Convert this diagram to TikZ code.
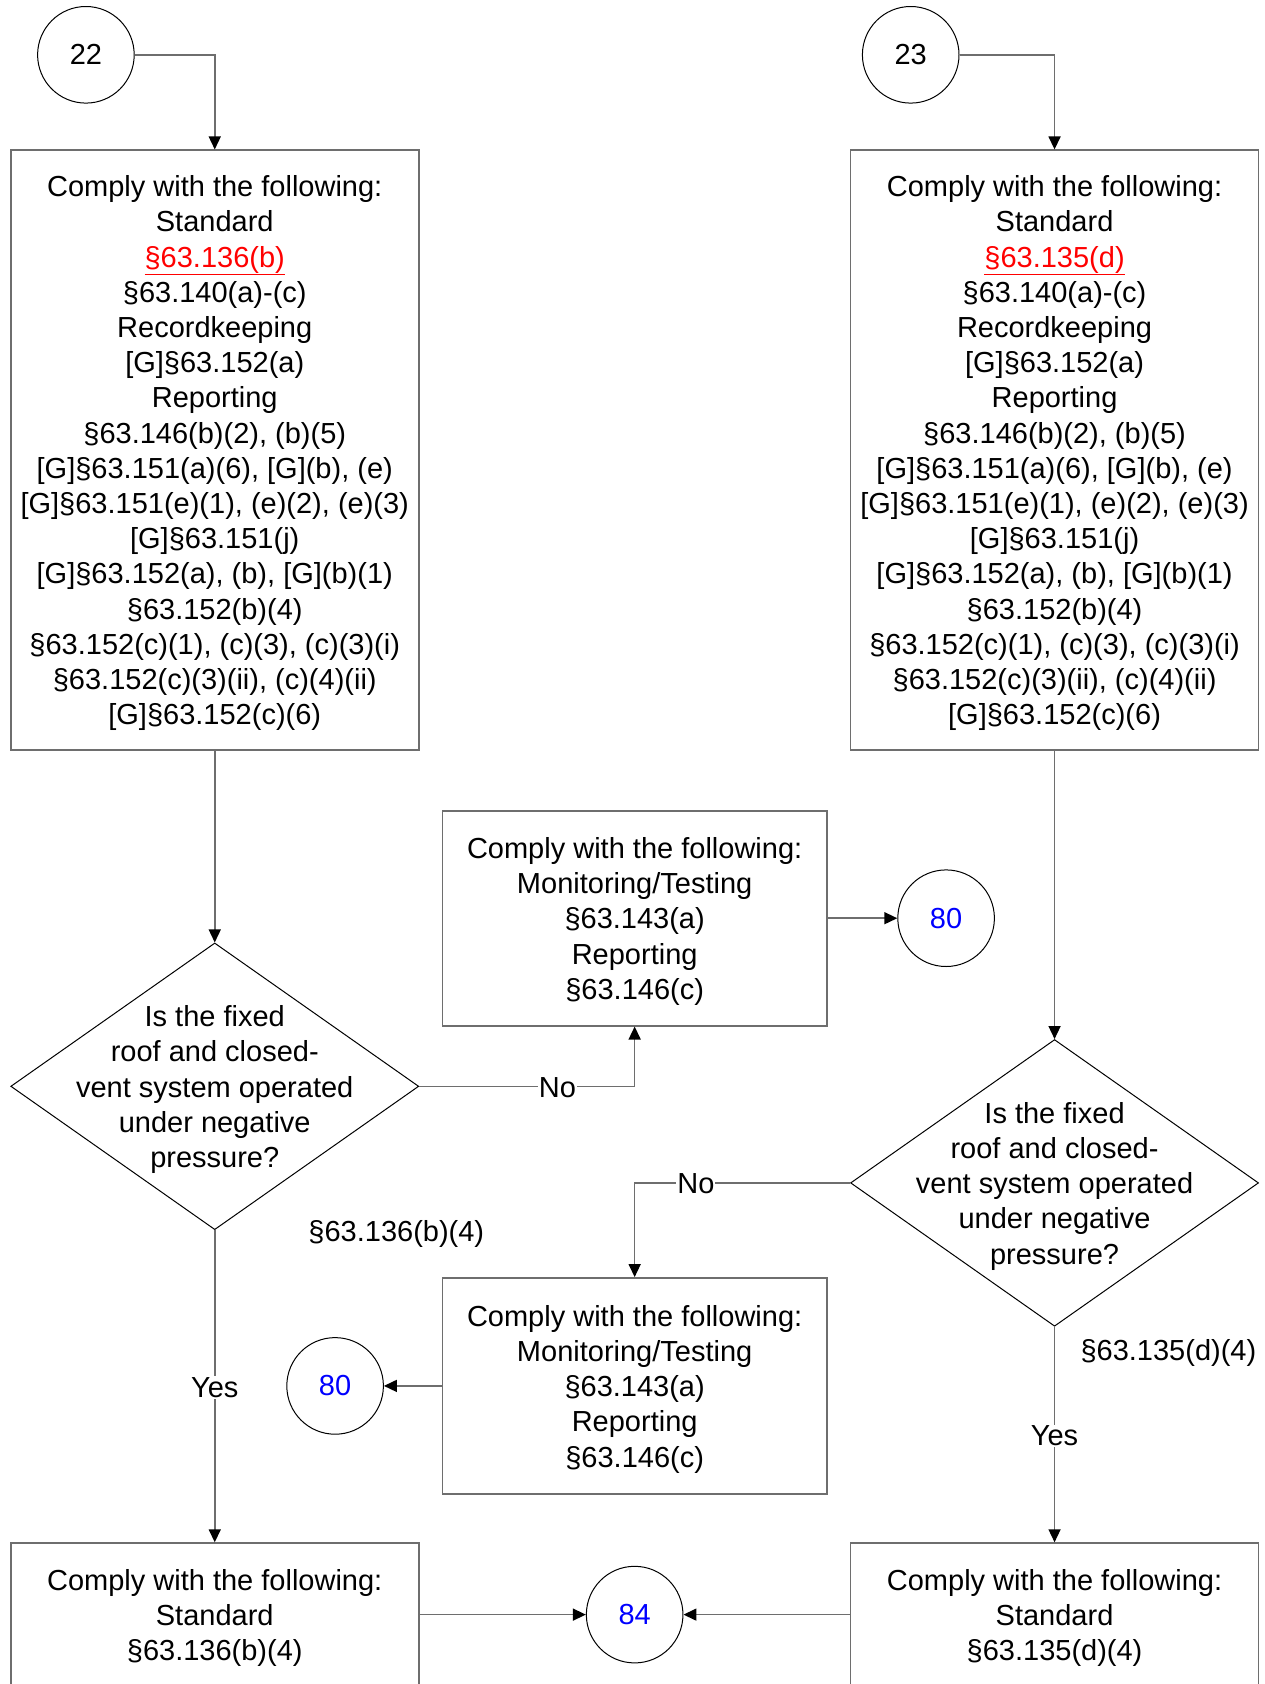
\documentclass[tikz,border=0pt]{standalone}
\usepackage{fontspec}
\setmainfont{Liberation Sans}
\usetikzlibrary{shapes.geometric,arrows.meta}
\definecolor{boxgray}{HTML}{6E6E6E}
\definecolor{refred}{HTML}{FF0000}
\definecolor{refblue}{HTML}{0000FF}
\begin{document}
\begin{tikzpicture}[x=1pt,y=-1pt,
  every node/.style={font=\fontsize{29}{35.2}\selectfont, text=black},
  box/.style={draw=boxgray, line width=1.8pt, rectangle, inner sep=0pt},
  dia/.style={draw=black, line width=1pt, diamond, inner sep=0pt, minimum width=408pt, minimum height=286.7pt},
  conn/.style={draw=boxgray, line width=1.5pt, -{Triangle[length=13pt,width=12pt,color=black]}},
  circ/.style={draw=black, line width=1pt, circle, inner sep=0pt, minimum size=96.6pt},
  lbl/.style={fill=white, inner sep=1pt, yshift=-1pt},
  txt/.style={align=center, inner sep=0pt, yshift=-3.2pt},
  num/.style={inner sep=0pt}
]
\useasboundingbox (0,0) rectangle (1264,1684);
\fill[white] (0,0) rectangle (1264,1684);
\clip (0,0) rectangle (1264,1684);

% entry circles
\node[circ] (c22) at (85.9,54.8) {};
\node[num] (c22t) at (c22.center) {22};
\node[circ] (c23) at (910.7,54.8) {};
\node[num] (c23t) at (c23.center) {23};

% top boxes
\node[box, minimum width=408pt, minimum height=599.3pt] (b1) at (214.75,450) {};
\node[txt] (b1t) at (b1.center) {Comply with the following:\\Standard\\{\color{refred}\underline{§63.136(b)}}\\§63.140(a)-(c)\\Recordkeeping\\{[G]}§63.152(a)\\Reporting\\§63.146(b)(2), (b)(5)\\{[G]}§63.151(a)(6), [G](b), (e)\\{[G]}§63.151(e)(1), (e)(2), (e)(3)\\{[G]}§63.151(j)\\{[G]}§63.152(a), (b), [G](b)(1)\\§63.152(b)(4)\\§63.152(c)(1), (c)(3), (c)(3)(i)\\§63.152(c)(3)(ii), (c)(4)(ii)\\{[G]}§63.152(c)(6)};
\node[box, minimum width=408pt, minimum height=599.3pt] (b2) at (1054.55,450) {};
\node[txt] (b2t) at (b2.center) {Comply with the following:\\Standard\\{\color{refred}\underline{§63.135(d)}}\\§63.140(a)-(c)\\Recordkeeping\\{[G]}§63.152(a)\\Reporting\\§63.146(b)(2), (b)(5)\\{[G]}§63.151(a)(6), [G](b), (e)\\{[G]}§63.151(e)(1), (e)(2), (e)(3)\\{[G]}§63.151(j)\\{[G]}§63.152(a), (b), [G](b)(1)\\§63.152(b)(4)\\§63.152(c)(1), (c)(3), (c)(3)(i)\\§63.152(c)(3)(ii), (c)(4)(ii)\\{[G]}§63.152(c)(6)};

% middle boxes
\node[box, minimum width=384.5pt, minimum height=214.8pt] (m1) at (634.65,918.2) {};
\node[txt] (m1t) at (m1.center) {Comply with the following:\\Monitoring/Testing\\§63.143(a)\\Reporting\\§63.146(c)};
\node[box, minimum width=384.5pt, minimum height=215.8pt] (m2) at (634.65,1385.9) {};
\node[txt] (m2t) at (m2.center) {Comply with the following:\\Monitoring/Testing\\§63.143(a)\\Reporting\\§63.146(c)};

\node[circ] (c80a) at (946.1,918.2) {};
\node[num, text=refblue] (c80at) at (c80a.center) {80};
\node[circ] (c80b) at (335.1,1385.9) {};
\node[num, text=refblue] (c80bt) at (c80b.center) {80};

% diamonds
\node[dia] (d1) at (214.75,1086.3) {};
\node[txt] (d1t) at (d1.center) {Is the fixed\\roof and closed-\\vent system operated\\under negative\\pressure?};
\node[dia] (d2) at (1054.55,1182.9) {};
\node[txt] (d2t) at (d2.center) {Is the fixed\\roof and closed-\\vent system operated\\under negative\\pressure?};

% bottom boxes
\node[box, minimum width=408pt, minimum height=142.8pt] (b3) at (214.75,1614.6) {};
\node[txt] (b3t) at (b3.center) {Comply with the following:\\Standard\\§63.136(b)(4)};
\node[box, minimum width=408pt, minimum height=142.8pt] (b4) at (1054.55,1614.6) {};
\node[txt] (b4t) at (b4.center) {Comply with the following:\\Standard\\§63.135(d)(4)};
\node[circ] (c84) at (634.65,1614.6) {};
\node[num, text=refblue] (c84t) at (c84.center) {84};

% edges
\draw[conn] (c22.east) -| (b1.north);
\draw[conn] (c23.east) -| (b2.north);
\draw[conn] (b1.south) -- (d1.north);
\draw[conn] (d1.east) -| (m1.south);
\draw[conn] (m1.east) -- (c80a.west);
\draw[conn] (b2.south) -- (d2.north);
\draw[conn] (d2.west) -| (m2.north);
\draw[conn] (m2.west) -- (c80b.east);
\draw[conn] (d1.south) -- (b3.north);
\draw[conn] (d2.south) -- (b4.north);
\draw[conn] (b3.east) -- (c84.west);
\draw[conn] (b4.west) -- (c84.east);

% labels
\node[lbl] (no1) at (557.4,1086.3) {No};
\node[lbl] (no2) at (695.9,1182.9) {No};
\node[lbl] (yes1) at (214.75,1386.4) {Yes};
\node[lbl] (yes2) at (1054.55,1434.7) {Yes};
\node[txt] (ref1) at (396.3,1230.7) {§63.136(b)(4)};
\node[txt] (ref2) at (1168.4,1349.9) {§63.135(d)(4)};
\end{tikzpicture}
\end{document}
